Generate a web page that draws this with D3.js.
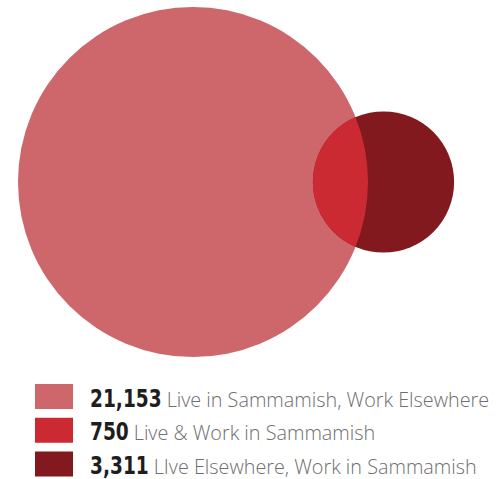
<!DOCTYPE html>
<html><head><meta charset="utf-8">
<script src="https://cdn.jsdelivr.net/npm/d3@7"></script>
<style>body{margin:0;background:#fff;}</style>
</head><body>
<svg id="c" width="499" height="479"></svg>
<script>
const categories = ["Live in Sammamish, Work Elsewhere", "Live & Work in Sammamish", "LIve Elsewhere, Work in Sammamish"];
const values = [21153, 750, 3311];
const colors = ["#cd676b", "#cc2a33", "#81191f"];

const svg = d3.select("#c");
const r = d3.scaleSqrt().domain([0, 21153]).range([0, 175]);
const rBig = r(values[0]), rSmall = r(values[2]) * 1.02;
const cy = 182;
const bigCx = 193, smallCx = 383.5;

const defs = svg.append("defs");
defs.append("clipPath").attr("id", "bigclip").append("circle")
  .attr("cx", bigCx).attr("cy", cy).attr("r", rBig);

svg.append("circle").attr("cx", bigCx).attr("cy", cy).attr("r", rBig).attr("fill", colors[0]);
svg.append("circle").attr("cx", smallCx).attr("cy", cy).attr("r", rSmall).attr("fill", colors[2]);
svg.append("circle").attr("cx", smallCx).attr("cy", cy).attr("r", rSmall).attr("fill", colors[1])
  .attr("clip-path", "url(#bigclip)");

const fmt = d3.format(",");
const y = d3.scalePoint().domain(d3.range(3)).range([406.5, 474]);
const g = svg.selectAll("g.leg").data(categories).join("g").attr("class", "leg")
  .attr("transform", (d, i) => `translate(0,${y(i)})`);
g.append("rect").attr("x", 35).attr("y", -22.5).attr("width", 38).attr("height", 25)
  .attr("fill", (d, i) => colors[i]);
const sx = 0.86;
g.each(function(d, i) {
  const gg = d3.select(this);
  const num = gg.append("text").text(fmt(values[i]))
    .attr("transform", `translate(90,0) scale(${sx},1)`)
    .attr("font-family", "'DejaVu Sans Condensed','DejaVu Sans',sans-serif")
    .attr("font-stretch", "condensed")
    .attr("font-weight", "bold").attr("font-size", 24).attr("fill", "#1e1e1e");
  const w = num.node().getComputedTextLength() * sx;
  gg.append("text").text(d).attr("x", 90 + w + 5).attr("y", 0)
    .attr("font-family", "'Open Sans',sans-serif").attr("font-weight", 300)
    .attr("font-size", 19.8).attr("fill", "#6e6e6e");
});
</script>
</body></html>
